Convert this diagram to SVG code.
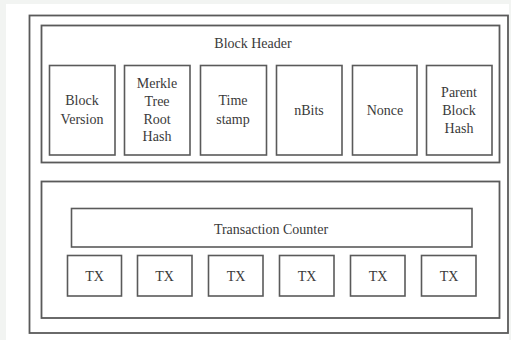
<svg xmlns="http://www.w3.org/2000/svg" width="511" height="340" viewBox="0 0 511 340">
<style>
  .box { fill: #ffffff; stroke: #5a5a5a; stroke-width: 1.6; }
  .frame { fill: none; stroke: #5a5a5a; stroke-width: 1.8; }
  .t { font-family: 'Liberation Serif', 'DejaVu Serif', serif; font-size: 14px; fill: #3a3a3a; text-anchor: middle; }
</style>
<rect x="0" y="0" width="511" height="340" fill="#f2f4f2"/>
<rect x="6" y="4" width="503" height="336" fill="#ffffff"/>
<g id="block">
  <rect class="frame" x="29.5" y="15.5" width="478.5" height="317.5"/>
</g>
<g id="block-header">
  <rect class="frame" x="41.5" y="25.5" width="458" height="137"/>
  <text class="t" x="253" y="48">Block Header</text>
</g>
<g id="block-version">
  <rect class="box" x="49.5" y="65.5" width="65.5" height="89.5"/>
  <text class="t" x="82" y="105">Block</text>
  <text class="t" x="82" y="124">Version</text>
</g>
<g id="merkle-root">
  <rect class="box" x="124.5" y="65.5" width="65.5" height="89.5"/>
  <text class="t" x="157" y="88">Merkle</text>
  <text class="t" x="157" y="106">Tree</text>
  <text class="t" x="157" y="124">Root</text>
  <text class="t" x="157" y="141">Hash</text>
</g>
<g id="timestamp">
  <rect class="box" x="200.5" y="65.5" width="66" height="89.5"/>
  <text class="t" x="233" y="105">Time</text>
  <text class="t" x="233" y="124">stamp</text>
</g>
<g id="nbits">
  <rect class="box" x="276.5" y="65.5" width="65.5" height="89.5"/>
  <text class="t" x="309" y="115">nBits</text>
</g>
<g id="nonce">
  <rect class="box" x="352.5" y="65.5" width="64.5" height="89.5"/>
  <text class="t" x="385" y="115">Nonce</text>
</g>
<g id="parent-hash">
  <rect class="box" x="426.5" y="65.5" width="65.5" height="89.5"/>
  <text class="t" x="459" y="97">Parent</text>
  <text class="t" x="459" y="115">Block</text>
  <text class="t" x="459" y="133">Hash</text>
</g>
<g id="block-body">
  <rect class="frame" x="41.5" y="181.5" width="458" height="136.5"/>
</g>
<g id="transaction-counter">
  <rect class="box" x="71.5" y="208.5" width="400.5" height="38.5"/>
  <text class="t" x="271" y="234">Transaction Counter</text>
</g>
<g id="tx1"><rect class="box" x="67.5" y="255.5" width="54" height="40.5"/><text class="t" x="94.5" y="281">TX</text></g>
<g id="tx2"><rect class="box" x="137.5" y="255.5" width="54.5" height="40.5"/><text class="t" x="164.5" y="281">TX</text></g>
<g id="tx3"><rect class="box" x="208.5" y="255.5" width="54.5" height="40.5"/><text class="t" x="236" y="281">TX</text></g>
<g id="tx4"><rect class="box" x="279.5" y="255.5" width="54.5" height="40.5"/><text class="t" x="307" y="281">TX</text></g>
<g id="tx5"><rect class="box" x="350.5" y="255.5" width="54.5" height="40.5"/><text class="t" x="378" y="281">TX</text></g>
<g id="tx6"><rect class="box" x="421.5" y="255.5" width="54.5" height="40.5"/><text class="t" x="449" y="281">TX</text></g>
<g id="connectors"></g>
</svg>
